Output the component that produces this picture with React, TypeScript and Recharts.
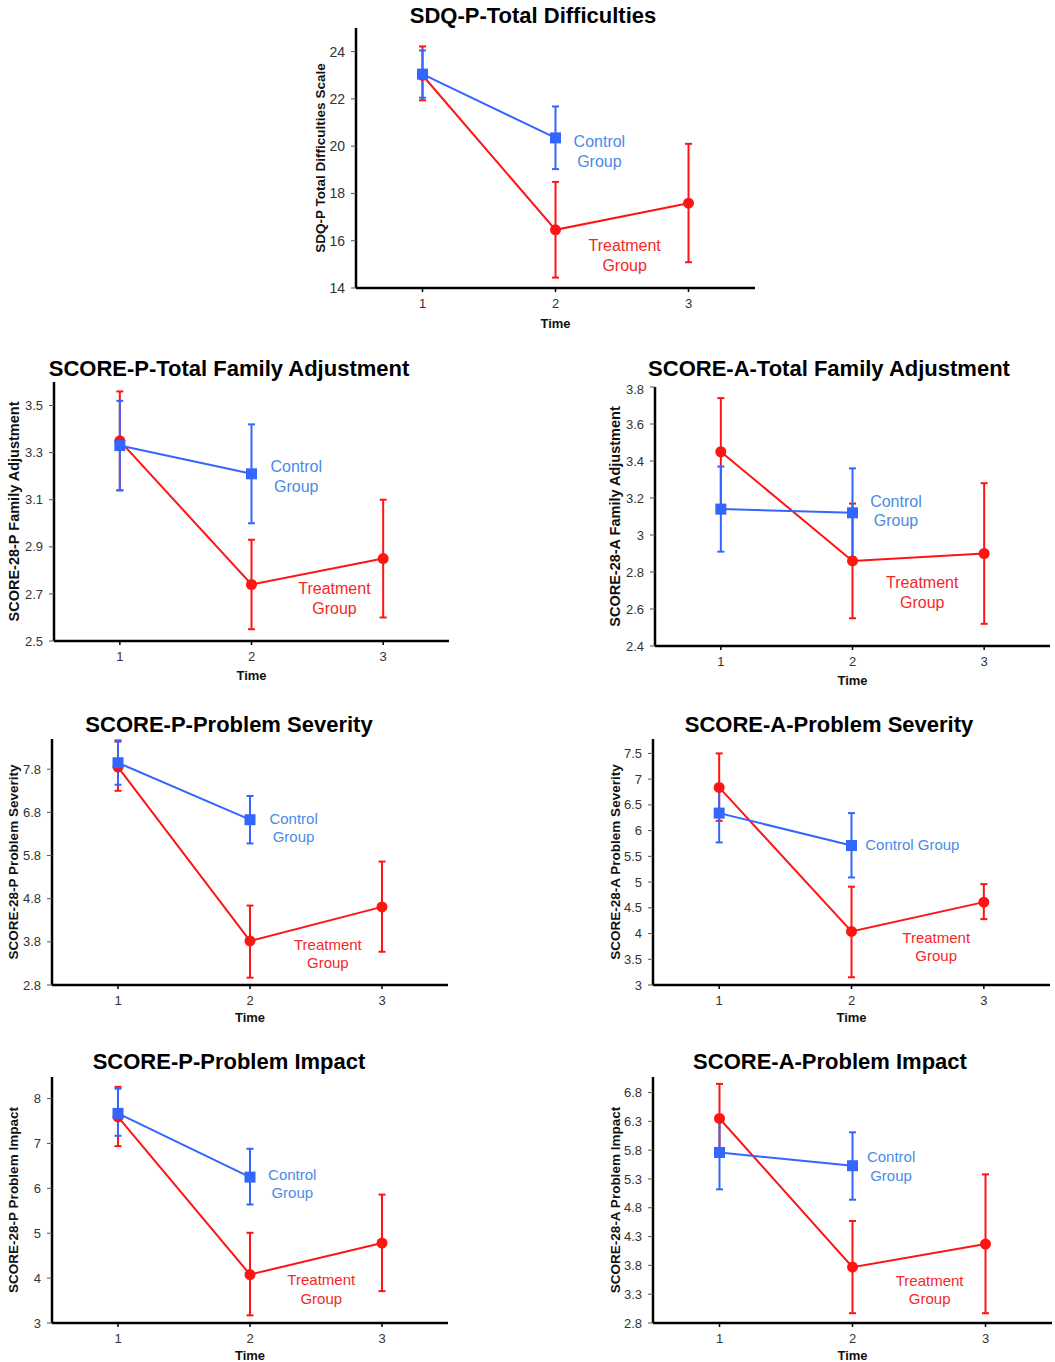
import React from "react";
import { ErrorBar, Line, LineChart, ReferenceDot, XAxis, YAxis } from "recharts";

const FONT = '"Liberation Sans", Arial, Helvetica, sans-serif';
const BLUE = "#3366ff";
const BLUE_TEXT = "#4a8be6";
const RED = "#ff1414";
const RED_TEXT = "#f52828";

const times = [1, 2, 3];
const timeTicks = [1, 2, 3];

// SDQ-P Total Difficulties
const sdqControl = [23.05, 20.35];
const sdqControlCi = [[22.05, 24.05], [19.03, 21.68]];
const sdqTreatment = [23.0, 16.46, 17.59];
const sdqTreatmentCi = [[21.94, 24.22], [14.44, 18.49], [15.09, 20.1]];
const sdqTicks = [14, 16, 18, 20, 22, 24];

// SCORE-P Total Family Adjustment
const pfaControl = [3.33, 3.21];
const pfaControlCi = [[3.14, 3.52], [3.0, 3.42]];
const pfaTreatment = [3.35, 2.74, 2.85];
const pfaTreatmentCi = [[3.14, 3.56], [2.55, 2.93], [2.6, 3.1]];
const pfaTicks = [2.5, 2.7, 2.9, 3.1, 3.3, 3.5];

// SCORE-A Total Family Adjustment
const afaControl = [3.14, 3.12];
const afaControlCi = [[2.91, 3.37], [2.88, 3.36]];
const afaTreatment = [3.45, 2.86, 2.9];
const afaTreatmentCi = [[3.16, 3.74], [2.55, 3.17], [2.52, 3.28]];
const afaTicks = [2.4, 2.6, 2.8, 3, 3.2, 3.4, 3.6, 3.8];

// SCORE-P Problem Severity
const ppsControl = [7.95, 6.63];
const ppsControlCi = [[7.44, 8.47], [6.08, 7.18]];
const ppsTreatment = [7.85, 3.82, 4.61];
const ppsTreatmentCi = [[7.3, 8.44], [2.97, 4.64], [3.57, 5.66]];
const ppsTicks = [2.8, 3.8, 4.8, 5.8, 6.8, 7.8];

// SCORE-A Problem Severity
const apsControl = [6.34, 5.71];
const apsControlCi = [[5.77, 6.88], [5.09, 6.34]];
const apsTreatment = [6.84, 4.04, 4.61];
const apsTreatmentCi = [[6.19, 7.5], [3.15, 4.91], [4.28, 4.96]];
const apsTicks = [3, 3.5, 4, 4.5, 5, 5.5, 6, 6.5, 7, 7.5];

// SCORE-P Problem Impact
const ppiControl = [7.67, 6.25];
const ppiControlCi = [[7.17, 8.22], [5.64, 6.88]];
const ppiTreatment = [7.59, 4.08, 4.78];
const ppiTreatmentCi = [[6.94, 8.26], [3.17, 5.01], [3.71, 5.86]];
const ppiTicks = [3, 4, 5, 6, 7, 8];

// SCORE-A Problem Impact
const apiControl = [5.76, 5.53];
const apiControlCi = [[5.12, 6.4], [4.94, 6.11]];
const apiTreatment = [6.35, 3.77, 4.17];
const apiTreatmentCi = [[5.75, 6.95], [2.97, 4.57], [2.97, 5.38]];
const apiTicks = [2.8, 3.3, 3.8, 4.3, 4.8, 5.3, 5.8, 6.3, 6.8];

function toRows(means: number[], ci: number[][]) {
  return means.map((m, i) => ({
    time: times[i],
    value: m,
    err: [+(m - ci[i][0]).toFixed(3), +(ci[i][1] - m).toFixed(3)],
  }));
}

type Note = { x: number; y: number; lines: string[] };

type PanelProps = {
  title: string;
  yLabel: string;
  ticks: number[];
  domain: [number, number];
  control: { time: number; value: number; err: number[] }[];
  treatment: { time: number; value: number; err: number[] }[];
  box: { L: number; T: number; R: number; B: number };
  titleX: number;
  titleBase: number;
  labelSize: number;
  labelDist: number;
  tickSize: number;
  timeOffset: number;
  noteSize: number;
  noteGap: number;
  controlNote: Note;
  treatmentNote: Note;
};

const AxisTitle = (props: any) => {
  const vb = props.viewBox || { x: 0, y: 0, width: 0, height: 0 };
  if (props.axis === "y") {
    const cx = vb.x + vb.width - props.dist;
    const cy = vb.y + vb.height / 2;
    return (
      <text
        x={cx}
        y={cy + props.size * 0.35}
        transform={`rotate(-90 ${cx} ${cy})`}
        textAnchor="middle"
        fontSize={props.size}
        fontWeight="bold"
        fontFamily={FONT}
        fill="#111"
      >
        {props.text}
      </text>
    );
  }
  const cx = vb.x + vb.width / 2;
  return (
    <text x={cx} y={vb.y + props.drop} textAnchor="middle" fontSize={13} fontWeight="bold" fontFamily={FONT} fill="#111">
      {props.text}
    </text>
  );
};

const NoteLabel = (props: any) => {
  const vb = props.viewBox || { x: 0, y: 0, width: 0, height: 0 };
  const cx = vb.x + (vb.width || 0) / 2;
  const cy = vb.y + (vb.height || 0) / 2;
  const y0 = cy - (props.gap * (props.lines.length - 1)) / 2 + props.size * 0.35;
  return (
    <text textAnchor="middle" fill={props.color} fontSize={props.size} fontFamily={FONT}>
      {props.lines.map((l: string, i: number) => (
        <tspan key={i} x={cx} y={y0 + i * props.gap}>
          {l}
        </tspan>
      ))}
    </text>
  );
};

const Square = (p: any) => {
  if (p.cx == null || p.cy == null) return <g key={`sq${p.index}`} />;
  return <rect key={`sq${p.index}`} x={p.cx - 5.5} y={p.cy - 5.5} width={11} height={11} fill={BLUE} />;
};

const Yw = 52;
const mt = 6;
const mr = 8;
const Xh = 42;

function Panel(p: PanelProps) {
  const { L, T, R, B } = p.box;
  const width = Yw + (R - L) + mr;
  const height = mt + (B - T) + Xh;
  return (
    <>
      <div
        style={{
          position: "absolute",
          left: p.titleX - 300,
          width: 600,
          top: p.titleBase - 18.6,
          fontSize: 22,
          lineHeight: "22px",
          fontWeight: "bold",
          textAlign: "center",
          fontFamily: FONT,
          color: "#000",
          whiteSpace: "nowrap",
        }}
      >
        {p.title}
      </div>
      <div style={{ position: "absolute", left: L - Yw, top: T - mt }}>
        <LineChart width={width} height={height} margin={{ top: mt, right: mr, left: 0, bottom: 0 }}>
          <XAxis
            type="number"
            dataKey="time"
            domain={[0.5, 3.5]}
            ticks={timeTicks}
            allowDataOverflow
            height={Xh}
            axisLine={{ stroke: "#000", strokeWidth: 2.5 }}
            tickLine={{ stroke: "#000", strokeWidth: 1.5 }}
            tickSize={4}
            tickMargin={7}
            tick={{ fill: "#333", fontSize: 13, fontFamily: FONT }}
            label={<AxisTitle axis="x" text="Time" drop={p.timeOffset} />}
          />
          <YAxis
            type="number"
            domain={p.domain}
            ticks={p.ticks}
            allowDataOverflow
            width={Yw}
            axisLine={{ stroke: "#000", strokeWidth: 2.5 }}
            tickLine={{ stroke: "#555", strokeWidth: 1 }}
            tickSize={5}
            tickMargin={6}
            tick={{ fill: "#333", fontSize: p.tickSize, fontFamily: FONT }}
            label={<AxisTitle axis="y" text={p.yLabel} size={p.labelSize} dist={p.labelDist} />}
          />
          <Line
            data={p.treatment}
            dataKey="value"
            stroke={RED}
            strokeWidth={2}
            dot={{ r: 5.5, fill: RED, stroke: RED, strokeWidth: 0 }}
            activeDot={false}
            isAnimationActive={false}
          >
            <ErrorBar dataKey="err" direction="y" width={3.5} stroke={RED} strokeWidth={2} isAnimationActive={false} />
          </Line>
          <Line
            data={p.control}
            dataKey="value"
            stroke={BLUE}
            strokeWidth={2}
            dot={Square}
            activeDot={false}
            isAnimationActive={false}
          >
            <ErrorBar dataKey="err" direction="y" width={3.5} stroke={BLUE} strokeWidth={2} isAnimationActive={false} />
          </Line>
          <ReferenceDot
            x={p.controlNote.x}
            y={p.controlNote.y}
            r={0}
            fill="none"
            stroke="none"
            label={<NoteLabel lines={p.controlNote.lines} color={BLUE_TEXT} size={p.noteSize} gap={p.noteGap} />}
          />
          <ReferenceDot
            x={p.treatmentNote.x}
            y={p.treatmentNote.y}
            r={0}
            fill="none"
            stroke="none"
            label={<NoteLabel lines={p.treatmentNote.lines} color={RED_TEXT} size={p.noteSize} gap={p.noteGap} />}
          />
        </LineChart>
      </div>
    </>
  );
}

const CG = ["Control", "Group"];
const TG = ["Treatment", "Group"];

export default function App() {
  return (
    <div style={{ position: "absolute", left: 0, top: 0, width: 1055, height: 1362, background: "#fff", overflow: "hidden" }}>
      <Panel
        title="SDQ-P-Total Difficulties"
        yLabel="SDQ-P Total Difficulties Scale"
        ticks={sdqTicks}
        domain={[14, 25]}
        control={toRows(sdqControl, sdqControlCi)}
        treatment={toRows(sdqTreatment, sdqTreatmentCi)}
        box={{ L: 356, T: 28, R: 755, B: 288 }}
        titleX={533}
        titleBase={24}
        labelSize={13.5}
        labelDist={36}
        tickSize={14}
        timeOffset={39.5}
        noteSize={16}
        noteGap={20}
        controlNote={{ x: 2.33, y: 19.78, lines: CG }}
        treatmentNote={{ x: 2.52, y: 15.39, lines: TG }}
      />
      <Panel
        title="SCORE-P-Total Family Adjustment"
        yLabel="SCORE-28-P Family Adjustment"
        ticks={pfaTicks}
        domain={[2.5, 3.6]}
        control={toRows(pfaControl, pfaControlCi)}
        treatment={toRows(pfaTreatment, pfaTreatmentCi)}
        box={{ L: 54, T: 382, R: 449, B: 641 }}
        titleX={229}
        titleBase={377}
        labelSize={14.5}
        labelDist={40.5}
        tickSize={13}
        timeOffset={39}
        noteSize={16}
        noteGap={20}
        controlNote={{ x: 2.34, y: 3.2, lines: CG }}
        treatmentNote={{ x: 2.63, y: 2.68, lines: TG }}
      />
      <Panel
        title="SCORE-A-Total Family Adjustment"
        yLabel="SCORE-28-A Family Adjustment"
        ticks={afaTicks}
        domain={[2.4, 3.8]}
        control={toRows(afaControl, afaControlCi)}
        treatment={toRows(afaTreatment, afaTreatmentCi)}
        box={{ L: 655, T: 387, R: 1050, B: 646 }}
        titleX={829}
        titleBase={377}
        labelSize={14.5}
        labelDist={40}
        tickSize={13}
        timeOffset={38.5}
        noteSize={16}
        noteGap={19.5}
        controlNote={{ x: 2.33, y: 3.13, lines: CG }}
        treatmentNote={{ x: 2.53, y: 2.69, lines: TG }}
      />
      <Panel
        title="SCORE-P-Problem Severity"
        yLabel="SCORE-28-P Problem Severity"
        ticks={ppsTicks}
        domain={[2.8, 8.5]}
        control={toRows(ppsControl, ppsControlCi)}
        treatment={toRows(ppsTreatment, ppsTreatmentCi)}
        box={{ L: 52, T: 739, R: 448, B: 985 }}
        titleX={229}
        titleBase={733}
        labelSize={13.5}
        labelDist={38.5}
        tickSize={13}
        timeOffset={37}
        noteSize={15}
        noteGap={18.3}
        controlNote={{ x: 2.33, y: 6.45, lines: CG }}
        treatmentNote={{ x: 2.59, y: 3.53, lines: TG }}
      />
      <Panel
        title="SCORE-A-Problem Severity"
        yLabel="SCORE-28-A Problem Severity"
        ticks={apsTicks}
        domain={[3, 7.78]}
        control={toRows(apsControl, apsControlCi)}
        treatment={toRows(apsTreatment, apsTreatmentCi)}
        box={{ L: 653, T: 739, R: 1050, B: 985 }}
        titleX={829}
        titleBase={733}
        labelSize={13.5}
        labelDist={38}
        tickSize={13}
        timeOffset={37}
        noteSize={15}
        noteGap={18.3}
        controlNote={{ x: 2.46, y: 5.72, lines: ["Control Group"] }}
        treatmentNote={{ x: 2.64, y: 3.74, lines: TG }}
      />
      <Panel
        title="SCORE-P-Problem Impact"
        yLabel="SCORE-28-P Problem Impact"
        ticks={ppiTicks}
        domain={[3, 8.48]}
        control={toRows(ppiControl, ppiControlCi)}
        treatment={toRows(ppiTreatment, ppiTreatmentCi)}
        box={{ L: 52, T: 1077, R: 448, B: 1323 }}
        titleX={229}
        titleBase={1070}
        labelSize={13.5}
        labelDist={38.5}
        tickSize={13}
        timeOffset={36.5}
        noteSize={15}
        noteGap={18.3}
        controlNote={{ x: 2.32, y: 6.1, lines: CG }}
        treatmentNote={{ x: 2.54, y: 3.75, lines: TG }}
      />
      <Panel
        title="SCORE-A-Problem Impact"
        yLabel="SCORE-28-A Problem Impact"
        ticks={apiTicks}
        domain={[2.8, 7.07]}
        control={toRows(apiControl, apiControlCi)}
        treatment={toRows(apiTreatment, apiTreatmentCi)}
        box={{ L: 653, T: 1077, R: 1052, B: 1323 }}
        titleX={830}
        titleBase={1070}
        labelSize={13.5}
        labelDist={38}
        tickSize={13}
        timeOffset={36.5}
        noteSize={15}
        noteGap={18.3}
        controlNote={{ x: 2.29, y: 5.52, lines: CG }}
        treatmentNote={{ x: 2.58, y: 3.38, lines: TG }}
      />
    </div>
  );
}
